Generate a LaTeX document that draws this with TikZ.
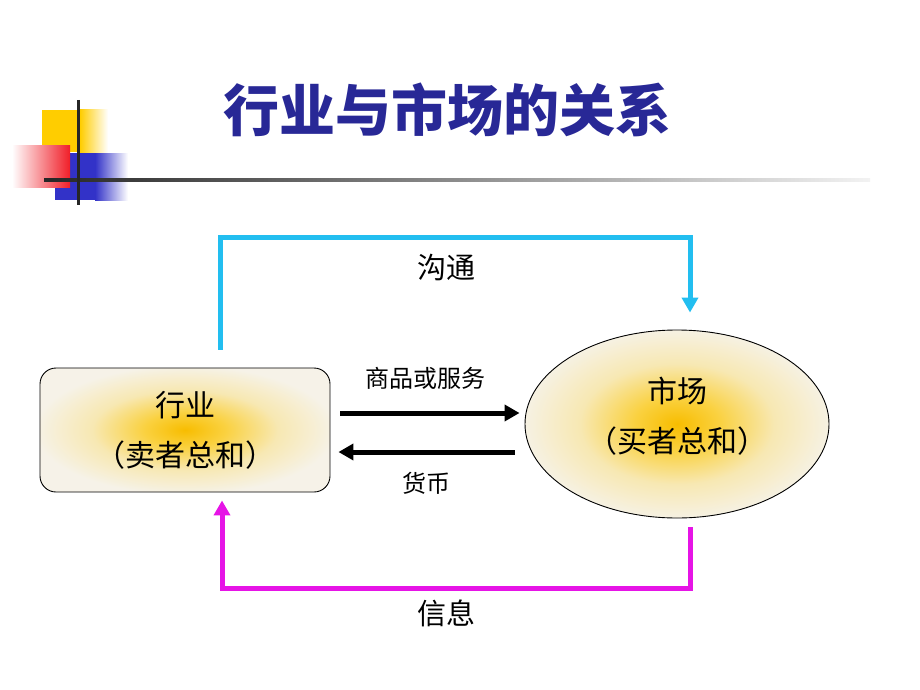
\documentclass[tikz,border=0pt]{standalone}
\usepackage{fontspec}
\setmainfont{Noto Sans CJK SC}
\usetikzlibrary{arrows.meta,shapes.geometric}
\definecolor{titleblue}{RGB}{40,40,150}
\definecolor{cyanline}{RGB}{34,190,240}
\definecolor{magline}{RGB}{230,20,230}
\definecolor{logoyel}{RGB}{255,205,0}
\definecolor{logored}{RGB}{240,30,40}
\definecolor{logoblue}{RGB}{50,50,200}
\pgfdeclareradialshading{glow}{\pgfpoint{0bp}{0bp}}{rgb(0bp)=(0.97,0.74,0.0); rgb(7bp)=(0.98,0.82,0.25); rgb(16bp)=(0.97,0.91,0.70); rgb(26bp)=(0.965,0.95,0.91); rgb(50bp)=(0.965,0.95,0.91)}
\tikzset{
  shapebox/.style={draw=black, line width=0.9pt, shading=glow, align=center, font=\fontsize{30}{50}\selectfont},
  shapetext/.style={align=center, font=\fontsize{30}{50}\selectfont},
  flowarrow/.style={line width=5pt, -{Triangle[length=15pt,width=16pt]}},
  lbl/.style={font=\fontsize{24}{28}\selectfont},
  biglbl/.style={font=\fontsize{29}{32}\selectfont}
}
\begin{document}
\begin{tikzpicture}[x=1pt,y=-1pt]
\useasboundingbox (0,0) rectangle (920,690);
% logo
\fill[logoyel] (42,110) rectangle (80,152);
\shade[left color=logoyel,right color=white] (80,110) rectangle (108,152);
\fill[logoblue] (70,153) rectangle (95,200);
\shade[left color=logoblue,right color=white] (95,153) rectangle (128,200);
\fill[logoblue] (55,178) rectangle (70,200);
\shade[left color=white,right color=logored] (12,145) rectangle (70,187);
\shade[left color=black!85,middle color=black!65,right color=black!5] (44,178.5) rectangle (870,181.5);
\draw[black!85,line width=3pt] (78,100) -- (78,205);
% title
\node[font=\fontsize{56}{62}\selectfont\bfseries, text=titleblue] (title) at (447,110) {行业与市场的关系};
% shapes
\node[shapebox, rounded corners=16pt, minimum width=290pt, minimum height=124pt] (ind) at (185,430) {行业\\（卖者总和）};
\node[draw=black, line width=0.9pt, shading=glow, ellipse, minimum width=304pt, minimum height=188pt, inner sep=0pt] (mkt) at (677,424) {};
\node[shapetext] (mkttxt) at ([yshift=8pt]mkt.center) {市场\\（买者总和）};
% arrows between
\draw[flowarrow] ([xshift=10pt,yshift=17pt]ind.east) -- ([xshift=-5pt,yshift=11pt]mkt.west);
\draw[flowarrow] ([xshift=-10pt,yshift=-28pt]mkt.west) -- ([xshift=8pt,yshift=-22pt]ind.east);
\node[lbl] (goods) at (425,378) {商品或服务};
\node[lbl] (money) at (426,483) {货币};
% cyan loop
\coordinate (c1) at (220,237);
\coordinate (c2) at (690,237);
\draw[cyanline, line width=5pt, line join=miter, -{Triangle[length=15pt,width=16pt]}] ([xshift=35pt,yshift=18pt]ind.north) -- (c1) -- (c2) -- ([xshift=13pt,yshift=17pt]mkt.north);
\node[biglbl] (comm) at (446,268) {沟通};
% magenta loop
\coordinate (m1) at (690,588);
\coordinate (m2) at (222,588);
\draw[magline, line width=5pt, line join=miter, -{Triangle[length=15pt,width=16pt]}] ([xshift=13pt,yshift=-9pt]mkt.south) -- (m1) -- (m2) -- ([xshift=37pt,yshift=-8pt]ind.south);
\node[biglbl] (info) at (446,613) {信息};
\end{tikzpicture}
\end{document}
